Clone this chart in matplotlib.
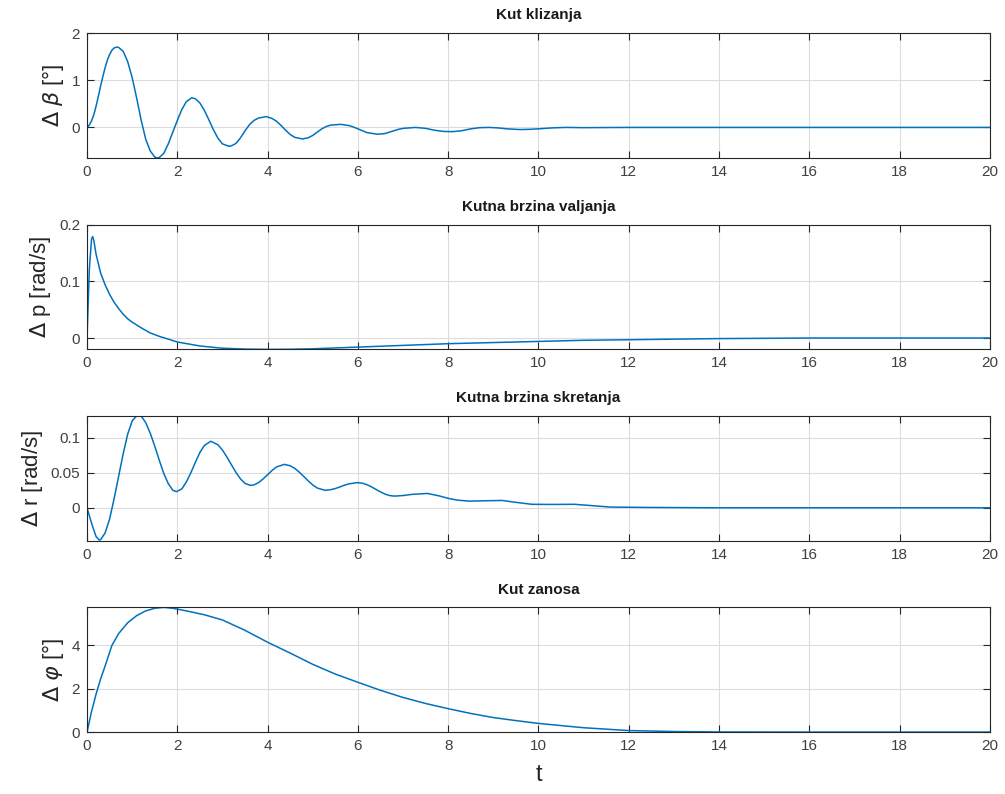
import numpy as np
import matplotlib.pyplot as plt

# vrijeme i odzivi ocitani sa slike
t_beta = [0, 0.05, 0.1, 0.15, 0.2, 0.25, 0.3, 0.35, 0.4, 0.45, 0.5, 0.55, 0.6, 0.67, 0.7, 0.8, 0.9,
          1.0, 1.1, 1.2, 1.3, 1.4, 1.5, 1.56, 1.6, 1.7, 1.8, 1.9, 2.0, 2.1, 2.2, 2.32, 2.4, 2.5, 2.6,
          2.7, 2.8, 2.9, 3.0, 3.14, 3.2, 3.3, 3.4, 3.5, 3.6, 3.7, 3.8, 3.97, 4.1, 4.2, 4.3, 4.4, 4.5,
          4.6, 4.77, 4.9, 5.0, 5.1, 5.2, 5.3, 5.4, 5.62, 5.8, 5.9, 6.0, 6.1, 6.2, 6.44, 6.6, 6.7, 6.8,
          6.9, 7.0, 7.28, 7.5, 7.7, 7.9, 8.09, 8.3, 8.5, 8.7, 8.9, 9.1, 9.3, 9.6, 9.8, 10.0, 10.3,
          10.6, 11.0, 12.0, 20.0]
beta = [0, 0.05, 0.14, 0.27, 0.45, 0.66, 0.88, 1.08, 1.27, 1.43, 1.55, 1.64, 1.69, 1.71, 1.70, 1.62,
        1.40, 1.06, 0.62, 0.15, -0.25, -0.50, -0.63, -0.65, -0.64, -0.55, -0.35, -0.10, 0.15, 0.38,
        0.55, 0.63, 0.61, 0.52, 0.36, 0.16, -0.05, -0.23, -0.35, -0.40, -0.39, -0.34, -0.22, -0.07,
        0.06, 0.15, 0.20, 0.23, 0.19, 0.13, 0.04, -0.06, -0.15, -0.21, -0.245, -0.22, -0.17, -0.10,
        -0.03, 0.02, 0.05, 0.065, 0.04, 0.01, -0.03, -0.07, -0.11, -0.145, -0.13, -0.10, -0.07, -0.04,
        -0.02, 0.0, -0.02, -0.06, -0.085, -0.09, -0.07, -0.03, -0.005, 0.0, -0.01, -0.03, -0.045,
        -0.04, -0.03, -0.01, 0.0, -0.005, 0.0, 0.0]

t_p = [0, 0.05, 0.1, 0.125, 0.15, 0.2, 0.3, 0.4, 0.5, 0.6, 0.7, 0.8, 0.9, 1.0, 1.2, 1.4, 1.6, 1.8,
       2.0, 2.5, 3.0, 3.5, 4.0, 4.5, 5.0, 6.0, 7.0, 8.0, 9.0, 10.0, 11.0, 12.0, 13.0, 14.0, 16.0, 20.0]
p = [0, 0.12, 0.175, 0.179, 0.172, 0.148, 0.115, 0.094, 0.077, 0.063, 0.052, 0.042, 0.034, 0.028,
     0.018, 0.009, 0.003, -0.002, -0.007, -0.014, -0.018, -0.0195, -0.02, -0.0198, -0.019, -0.016,
     -0.013, -0.010, -0.008, -0.006, -0.004, -0.003, -0.002, -0.001, 0.0, 0.0]

t_r = [0, 0.1, 0.2, 0.27, 0.3, 0.4, 0.5, 0.6, 0.7, 0.8, 0.9, 1.0, 1.12, 1.2, 1.3, 1.4, 1.5, 1.6, 1.7,
       1.8, 1.9, 1.98, 2.1, 2.2, 2.3, 2.4, 2.5, 2.6, 2.74, 2.9, 3.0, 3.1, 3.2, 3.3, 3.4, 3.5, 3.62,
       3.7, 3.8, 3.9, 4.0, 4.1, 4.2, 4.37, 4.5, 4.6, 4.7, 4.8, 4.9, 5.0, 5.1, 5.27, 5.4, 5.5, 5.6,
       5.7, 5.8, 5.99, 6.1, 6.2, 6.3, 6.4, 6.5, 6.6, 6.7, 6.81, 7.0, 7.2, 7.54, 7.8, 8.0, 8.2, 8.46,
       8.8, 9.19, 9.5, 9.85, 10.3, 10.8, 11.2, 11.6, 12.5, 14.0, 20.0]
r = [0, -0.022, -0.041, -0.046, -0.0455, -0.036, -0.016, 0.013, 0.045, 0.077, 0.105, 0.124, 0.133,
     0.131, 0.1216, 0.1066, 0.088, 0.068, 0.049, 0.0345, 0.025, 0.023, 0.027, 0.0369, 0.050, 0.065,
     0.079, 0.089, 0.095, 0.090, 0.0824, 0.0723, 0.0613, 0.0504, 0.0412, 0.0348, 0.032, 0.0328,
     0.036, 0.0412, 0.0473, 0.0534, 0.0584, 0.062, 0.060, 0.0564, 0.051, 0.0448, 0.0384, 0.0326,
     0.0282, 0.025, 0.0259, 0.0275, 0.0298, 0.0322, 0.0342, 0.036, 0.0351, 0.033, 0.0299, 0.0263,
     0.0227, 0.0196, 0.0175, 0.0167, 0.0175, 0.0192, 0.0205, 0.017, 0.0135, 0.011, 0.0095, 0.0100,
     0.0105, 0.0078, 0.005, 0.0048, 0.005, 0.003, 0.001, 0.0005, 0.0, 0.0]

t_phi = [0, 0.1, 0.2, 0.3, 0.4, 0.55, 0.7, 0.9, 1.1, 1.3, 1.5, 1.7, 1.9, 2.2, 2.6, 3.0, 3.5, 4.0, 4.5,
         5.0, 5.5, 6.0, 6.5, 7.0, 7.5, 8.0, 8.5, 9.0, 9.5, 10.0, 11.0, 12.0, 13.0, 14.0, 16.0, 20.0]
phi = [0, 0.95, 1.75, 2.45, 3.05, 4.0, 4.55, 5.05, 5.38, 5.6, 5.72, 5.76, 5.72, 5.6, 5.42, 5.18, 4.7,
       4.15, 3.65, 3.13, 2.68, 2.3, 1.93, 1.6, 1.32, 1.08, 0.86, 0.67, 0.53, 0.40, 0.2, 0.07, 0.025,
       0.005, 0.0, 0.0]

titles = ['Kut klizanja', 'Kutna brzina valjanja', 'Kutna brzina skretanja', 'Kut zanosa']
ylabels = [r'$\Delta$ $\beta$ [°]', r'$\Delta$ p [rad/s]', r'$\Delta$ r [rad/s]', r'$\Delta$ $\varphi$ [°]']
yticks = [[0, 1, 2], [0, 0.1, 0.2], [0, 0.05, 0.1], [0, 2, 4]]
yticklabels = [['0', '1', '2'], ['0', '0.1', '0.2'], ['0', '0.05', '0.1'], ['0', '2', '4']]
ylims = [(-0.65, 2), (-0.02, 0.2), (-0.047, 0.131), (0, 5.76)]
xticks = list(range(0, 21, 2))

plt.rcParams['font.family'] = ['Liberation Sans', 'DejaVu Sans']
plt.rcParams['mathtext.fontset'] = 'dejavusans'

fig = plt.figure(figsize=(10.05, 7.94), dpi=100)
bottoms = [0.801, 0.560, 0.319, 0.078]
height = 0.157
series = [(t_beta, beta), (t_p, p), (t_r, r), (t_phi, phi)]

for i in range(4):
    ax = fig.add_axes([0.0866, bottoms[i], 0.8984, height])
    x, y = series[i]
    ax.plot(x, y, color='#0072BD', lw=1.1)
    ax.set_xlim(0, 20)
    ax.set_ylim(*ylims[i])
    ax.set_xticks(xticks)
    ax.set_xticklabels([str(v) for v in xticks])
    ax.set_yticks(yticks[i])
    ax.set_yticklabels(yticklabels[i])
    ax.grid(True, color='#dcdcdc', lw=0.8)
    ax.set_axisbelow(True)
    ax.tick_params(direction='in', top=True, right=True, length=5, width=0.8,
                   colors='#262626', labelsize=11, labelcolor='#404040', pad=5)
    for s in ax.spines.values():
        s.set_color('#262626')
        s.set_linewidth(0.8)
    ax.set_title(titles[i], fontsize=11, fontweight='bold', color='#1a1a1a', pad=10)
    ax.set_ylabel(ylabels[i], fontsize=16, color='#262626', labelpad=4)

ax.set_xlabel('t', fontsize=17, color='#262626', labelpad=8)

fig.savefig('out.png', dpi=100, facecolor='white')
